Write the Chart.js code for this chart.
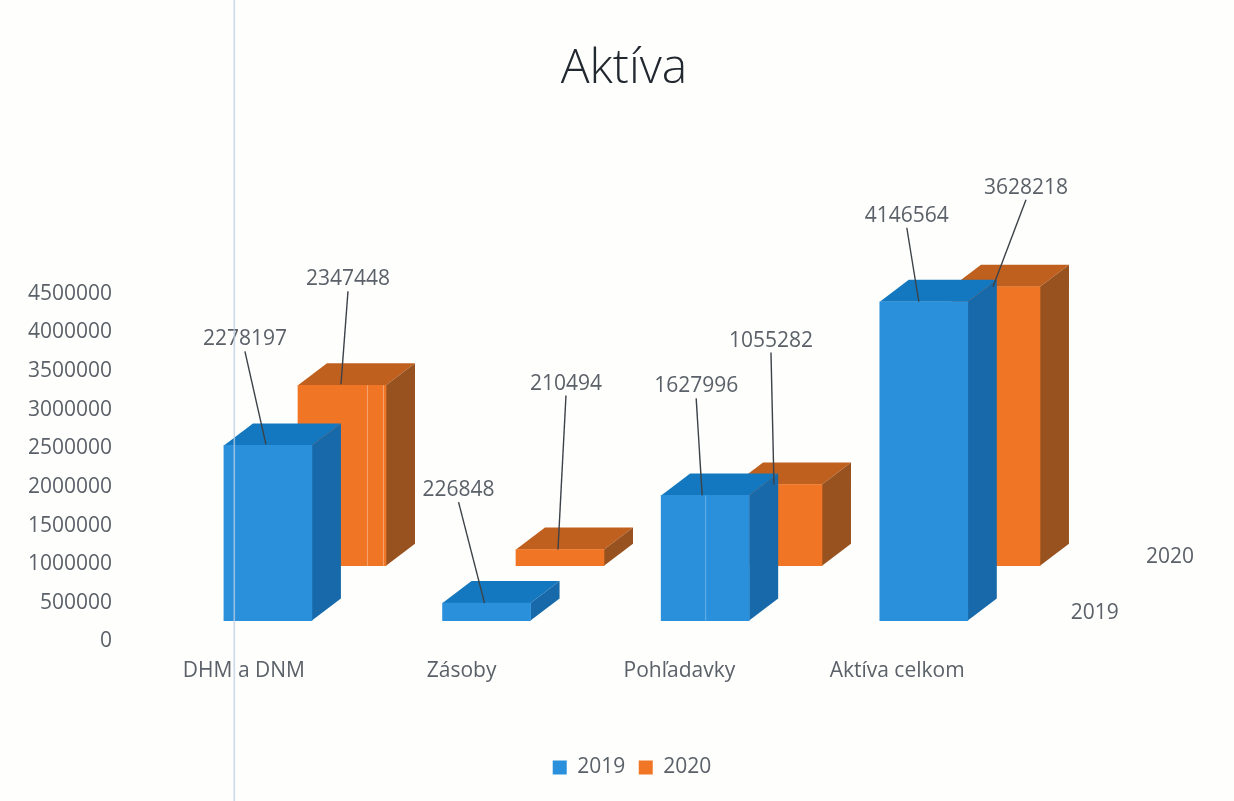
<!DOCTYPE html>
<html>
<head>
<meta charset="utf-8">
<script src="https://cdn.jsdelivr.net/npm/chart.js@4"></script>
<style>
html,body{margin:0;padding:0;background:#fefefd}
#wrap{position:relative;width:1234px;height:801px}
</style>
</head>
<body>
<div id="wrap"><canvas id="c" width="1234" height="801"></canvas></div>
<script>
const categories = ['DHM a DNM', 'Zásoby', 'Pohľadavky', 'Aktíva celkom'];
const series2019 = [2278197, 226848, 1627996, 4146564];
const series2020 = [2347448, 210494, 1055282, 3628218];
const yearLabels = ['2019', '2020'];
const axisMax = 4500000;
const axisStep = 500000;

// Layout only: label centre and leader end, relative to the top-centre of each bar
const labelOffset2019 = [[-23,-108],[-28,-115],[-9,-111],[-17,-88]];
const labelOffset2020 = [[6,-108],[6,-168],[-7,-146],[30,-101]];
const leaderEnd2019 = [[-2,-1],[-2,0],[-3,0],[-5,0]];
const leaderEnd2020 = [[-1,-1],[-2,0],[-4,0],[-3,0]];

const FONT = '"Open Sans", sans-serif';
const TEXT = '#5b6168';
const DEPTH = {dx: 29, dy: -22};
const faces = [
  {top:'#1378bf', side:'#1769a9', labelOff:labelOffset2019, end:leaderEnd2019, depthLabel:[171,-8]},
  {top:'#c0601e', side:'#98521f', labelOff:labelOffset2020, end:leaderEnd2020, depthLabel:[174,-9]}
];

function poly(ctx, pts, fill){
  ctx.beginPath();
  pts.forEach((p,i)=> i ? ctx.lineTo(p[0],p[1]) : ctx.moveTo(p[0],p[1]));
  ctx.closePath();
  ctx.fillStyle = fill;
  ctx.fill();
}

const box3d = {
  id:'box3d',
  afterLayout(chart){
    const t = chart.titleBlock, l = chart.legend;
    const tShift = 624 - (t.left + t.right)/2;
    t.left += tShift; t.right += tShift;
    const lShift = 632 - (l.left + l.right)/2;
    l.left += lShift; l.right += lShift;
  },
  beforeDatasetDraw(chart, args){
    const ctx = chart.ctx, f = faces[args.index];
    ctx.save();
    args.meta.data.forEach(bar=>{
      const L = bar.x - bar.width/2, R = bar.x + bar.width/2, T = bar.y, B = bar.base;
      poly(ctx, [[L,T],[L+DEPTH.dx,T+DEPTH.dy],[R+DEPTH.dx,T+DEPTH.dy],[R,T]], f.top);
      poly(ctx, [[R,T],[R+DEPTH.dx,T+DEPTH.dy],[R+DEPTH.dx,B+DEPTH.dy],[R,B]], f.side);
    });
    ctx.restore();
  },
  afterDatasetsDraw(chart){
    const ctx = chart.ctx;
    ctx.save();
    ctx.fillStyle = 'rgba(255,255,255,0.35)';
    const m1 = chart.getDatasetMeta(1), m0 = chart.getDatasetMeta(0);
    ctx.fillRect(m1.data[0].x+25, m1.data[0].y, 1, m1.data[0].base-m1.data[0].y);
    ctx.fillRect(m1.data[0].x+41, m1.data[0].y, 1, m1.data[0].base-m1.data[0].y);
    ctx.fillStyle = 'rgba(255,255,255,0.3)';
    ctx.fillRect(m0.data[2].x, m0.data[2].y, 1, m0.data[2].base-m0.data[2].y);

    ctx.font = '21px '+FONT;
    ctx.textAlign = 'center';
    ctx.textBaseline = 'middle';
    chart.data.datasets.forEach((ds,di)=>{
      const f = faces[di], meta = chart.getDatasetMeta(di);
      meta.data.forEach((bar,i)=>{
        const o = f.labelOff[i], e = f.end[i];
        const lx = bar.x+o[0], ly = bar.y+o[1];
        ctx.strokeStyle = '#3d4248';
        ctx.lineWidth = 1.4;
        ctx.beginPath();
        ctx.moveTo(lx, ly+14);
        ctx.lineTo(bar.x+e[0], bar.y+e[1]);
        ctx.stroke();
        ctx.fillStyle = TEXT;
        ctx.fillText(String(ds.data[i].y), lx, ly+2);
      });
      const last = meta.data[meta.data.length-1];
      ctx.fillStyle = TEXT;
      ctx.fillText(ds.label, last.x+f.depthLabel[0], last.base+f.depthLabel[1]);
    });
    ctx.fillStyle = 'rgba(190,205,226,0.75)';
    ctx.fillRect(233.5, 0, 1.6, 801);
    ctx.restore();
  }
};

new Chart(document.getElementById('c'), {
  type:'bar',
  data:{
    labels:categories,
    datasets:[
      {label:yearLabels[0], data:series2019.map((v,i)=>({x:i,y:v})), xAxisID:'x2019', yAxisID:'y2019',
       backgroundColor:'#2a90dc', barThickness:88, grouped:false, clip:false, borderWidth:0},
      {label:yearLabels[1], data:series2020.map((v,i)=>({x:i,y:v})), xAxisID:'x2020', yAxisID:'y2020',
       backgroundColor:'#f07524', barThickness:88, grouped:false, clip:false, borderWidth:0}
    ]
  },
  plugins:[box3d],
  options:{
    responsive:false,
    animation:false,
    events:[],
    layout:{padding:{left:0,right:228,top:0,bottom:13}},
    plugins:{
      tooltip:{enabled:false},
      title:{display:true, text:'Aktíva', color:'#22282f',
        font:{family:FONT,size:48,weight:'300'}, padding:{top:41,bottom:195}},
      legend:{position:'bottom',
        labels:{boxWidth:14,boxHeight:14,padding:13.5,color:TEXT,font:{family:FONT,size:21}}}
    },
    scales:{
      x:{type:'category', position:'bottom', labels:categories,
        grid:{display:false}, border:{display:false},
        ticks:{color:TEXT,font:{family:FONT,size:21},padding:9,maxRotation:0,autoSkip:false},
        afterFit(s){s.height=102;}},
      y:{type:'linear', position:'left', min:0, max:axisMax,
        grid:{display:false}, border:{display:false},
        ticks:{color:TEXT,font:{family:FONT,size:21},padding:15,stepSize:axisStep,callback:v=>String(v)},
        afterFit(s){s.width=135;}},
      x2019:{type:'linear', display:false, offset:false, min:-0.608, max:3.376},
      x2020:{type:'linear', display:false, offset:false, min:-0.9495, max:3.046},
      y2019:{type:'linear', display:false, min:-272300, max:4525000-272300},
      y2020:{type:'linear', display:false, min:-985400, max:4525000-985400}
    }
  }
});
</script>
</body>
</html>
